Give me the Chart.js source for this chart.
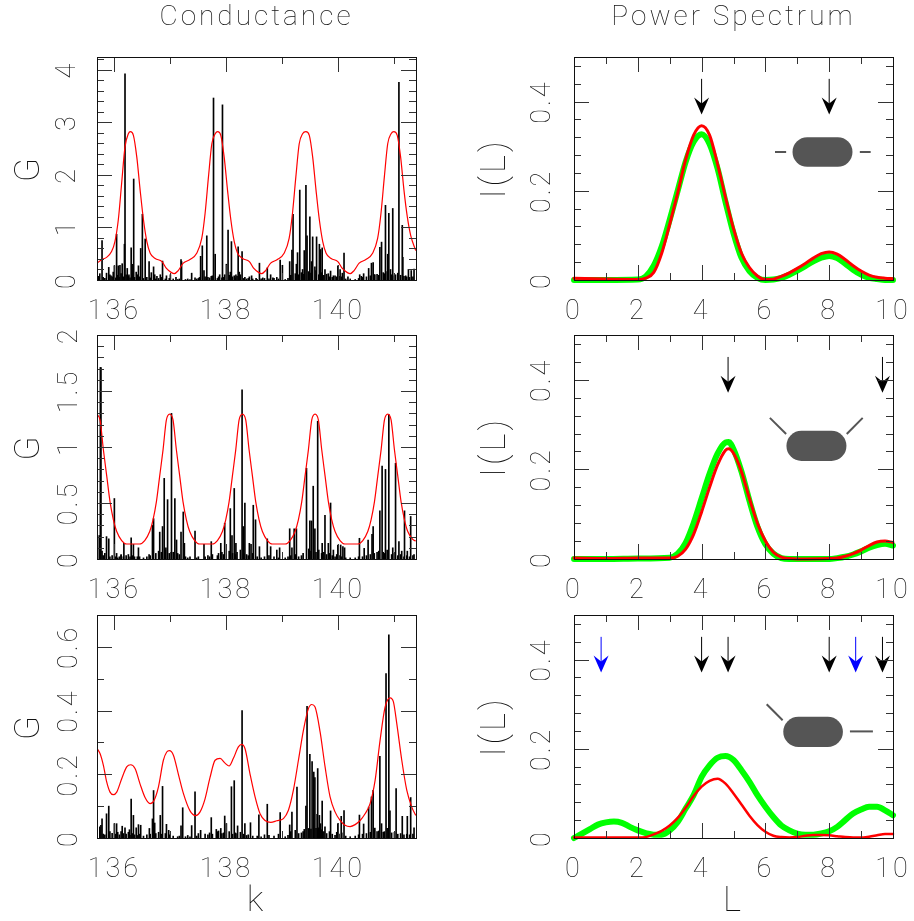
<!DOCTYPE html>
<html lang="en">

<head>
    <meta charset="UTF-8">
    <title>Conductance and Power Spectrum</title>
    <style>
        body {
            margin: 0;
            background: #fff;
            overflow: hidden;
        }

        canvas {
            position: absolute;
        }
    </style>
</head>

<body>
    <canvas id="g1" style="left:0;top:0"></canvas>
    <canvas id="p1" style="left:465px;top:0"></canvas>
    <canvas id="g2" style="left:0;top:320px"></canvas>
    <canvas id="p2" style="left:465px;top:320px"></canvas>
    <canvas id="g3" style="left:0;top:600px"></canvas>
    <canvas id="p3" style="left:465px;top:600px"></canvas>

    <script src="https://cdn.jsdelivr.net/npm/chart.js"></script>

    <script>
        // axis ticks
        const kMajor = [136, 138, 140];
        const kMinor = [137, 139, 141];
        const lMajor = [0, 2, 4, 6, 8, 10];
        const lMinor = [1, 3, 5, 7, 9];
        const g1Major = [0, 1, 2, 3, 4];
        const g1Minor = [0.2, 0.4, 0.6, 0.8, 1.2, 1.4, 1.6, 1.8, 2.2, 2.4, 2.6, 2.8, 3.2, 3.4, 3.6, 3.8, 4.2];
        const g2Major = [0, 0.5, 1, 1.5, 2];
        const g2Minor = [0.1, 0.2, 0.3, 0.4, 0.6, 0.7, 0.8, 0.9, 1.1, 1.2, 1.3, 1.4, 1.6, 1.7, 1.8, 1.9];
        const g3Major = [0, 0.2, 0.4, 0.6];
        const g3Minor = [0.1, 0.3, 0.5];
        const iMajor = [0, 0.2, 0.4];
        const iMinor = [0.04, 0.08, 0.12, 0.16, 0.24, 0.28, 0.32, 0.36, 0.44, 0.48];

        // conductance sticks, top panel
        const stickK1 = [135.72, 135.74, 135.78, 135.86, 135.90, 135.94, 135.98, 136.0, 136.04, 136.07,
            136.10, 136.14, 136.18, 136.19, 136.23, 136.26, 136.30, 136.33, 136.345, 136.39,
            136.43, 136.47, 136.50, 136.55, 136.62, 136.66, 136.70, 136.72, 136.76, 136.82,
            136.86, 136.93, 137.0, 137.10, 137.19, 137.20, 137.38, 137.44, 137.52, 137.54,
            137.57, 137.60, 137.65, 137.73, 137.77, 137.80, 137.88, 137.93, 137.97, 138.0,
            138.03, 138.07, 138.09, 138.14, 138.17, 138.21, 138.23, 138.28, 138.33, 138.41,
            138.45, 138.53, 138.59, 138.65, 138.73, 138.79, 138.83, 138.90, 138.96, 139.0,
            139.13, 139.17, 139.19, 139.25, 139.27, 139.31, 139.36, 139.39, 139.42, 139.44,
            139.49, 139.52, 139.54, 139.58, 139.61, 139.66, 139.68, 139.71, 139.76, 139.82,
            139.86, 139.91, 139.99, 140.03, 140.07, 140.10, 140.17, 140.38, 140.41, 140.45,
            140.54, 140.59, 140.62, 140.65, 140.74, 140.77, 140.84, 140.88, 140.90, 140.93,
            140.97, 141.02, 141.08, 141.14, 141.15, 141.2, 141.25, 141.3, 141.35];
        const stickG1 = [0.07, 0.12, 0.75, 0.13, 0.24, 0.08, 0.15, 0.27, 0.87, 0.27,
            0.28, 0.31, 0.68, 3.92, 0.22, 0.1, 0.61, 0.3, 1.92, 0.15,
            0.27, 0.6, 1.25, 0.78, 0.35, 0.14, 0.25, 0.1, 0.07, 0.1,
            0.36, 0.08, 0.1, 0.05, 0.39, 0.35, 0.13, 0.04, 0.05, 0.45,
            0.65, 0.18, 0.84, 0.07, 3.46, 0.49, 0.1, 3.33, 0.1, 0.3,
            0.95, 0.15, 0.73, 0.08, 0.1, 0.63, 0.15, 0.54, 0.05, 0.06,
            0.08, 0.03, 0.32, 0.04, 0.23, 0.1, 0.04, 0.05, 0.38, 0.28,
            0.35, 0.57, 1.25, 0.3, 0.52, 1.71, 0.2, 0.56, 1.80, 0.84,
            1.20, 0.35, 0.82, 0.25, 0.82, 0.68, 0.58, 0.61, 0.2, 0.12,
            0.17, 0.08, 0.27, 0.2, 0.13, 0.51, 0.06, 0.1, 0.07, 0.12,
            0.22, 0.32, 0.33, 0.1, 0.62, 0.72, 1.42, 0.49, 1.27, 0.2,
            1.36, 0.1, 3.76, 1.04, 0.43, 0.08, 0.2, 0.18, 0.21];

        // conductance sticks, middle panel
        const stickK2 = [135.73, 135.75, 135.76, 135.78, 135.86, 135.90, 136.0, 136.04, 136.12, 136.17,
            136.30, 136.34, 136.43, 136.62, 136.68, 136.70, 136.81, 136.86, 136.89, 136.92,
            136.95, 137.02, 137.08, 137.11, 137.19, 137.23, 137.25, 137.44, 137.6, 137.73,
            137.9, 137.97, 138.07, 138.10, 138.14, 138.17, 138.28, 138.30, 138.33, 138.41,
            138.44, 138.48, 138.52, 138.59, 138.73, 138.79, 138.90, 138.95, 139.13, 139.17,
            139.21, 139.25, 139.43, 139.49, 139.52, 139.55, 139.58, 139.63, 139.71, 139.76,
            139.82, 139.86, 139.91, 139.99, 140.04, 140.08, 140.11, 140.375, 140.46, 140.53,
            140.6, 140.62, 140.74, 140.78, 140.84, 140.90, 140.97, 141.02, 141.08, 141.13,
            141.18, 141.23, 141.29, 141.35];
        const stickG2 = [0.21, 1.71, 1.71, 0.07, 0.2, 0.18, 0.54, 0.05, 0.04, 0.14,
            0.19, 0.13, 0.1, 0.04, 0.3, 0.36, 0.24, 0.29, 0.72, 0.1,
            0.53, 1.3, 0.54, 0.17, 0.24, 0.42, 0.14, 0.25, 0.13, 0.155,
            0.14, 0.32, 0.45, 0.21, 0.63, 0.14, 1.51, 0.29, 0.5, 0.14,
            0.13, 0.48, 0.35, 0.11, 0.18, 0.11, 0.08, 0.1, 0.27, 0.1,
            0.27, 0.27, 0.81, 0.34, 0.34, 0.65, 0.27, 1.23, 0.14, 0.39,
            0.14, 0.5, 0.08, 0.125, 0.125, 0.11, 0.1, 0.185, 0.095, 0.17,
            0.22, 0.29, 0.43, 0.83, 0.8, 1.29, 0.1, 0.855, 0.155, 0.07,
            0.43, 0.07, 0.38, 0.04];

        // conductance sticks, bottom panel
        const stickK3 = [135.74, 135.76, 135.78, 135.86, 135.90, 136.0, 136.04, 136.14, 136.19, 136.27,
            136.30, 136.34, 136.39, 136.43, 136.47, 136.625, 136.68, 136.70, 136.72, 136.82,
            136.86, 136.93, 136.97, 137.19, 137.22, 137.38, 137.44, 137.54, 137.73, 137.82,
            137.9, 137.97, 138.0, 138.09, 138.14, 138.2, 138.28, 138.33, 138.43, 138.58,
            138.73, 138.96, 139.13, 139.17, 139.26, 139.39, 139.42, 139.44, 139.49, 139.53,
            139.56, 139.58, 139.62, 139.63, 139.66, 139.68, 139.71, 139.76, 139.86, 139.99,
            140.05, 140.10, 140.375, 140.45, 140.54, 140.59, 140.62, 140.65, 140.74, 140.77,
            140.85, 140.90, 140.92, 141.03, 141.14, 141.23, 141.29, 141.35];
        const stickG3 = [0.035, 0.04, 0.06, 0.076, 0.1, 0.045, 0.045, 0.037, 0.032, 0.026,
            0.122, 0.071, 0.032, 0.042, 0.04, 0.03, 0.06, 0.149, 0.047, 0.071,
            0.162, 0.043, 0.024, 0.038, 0.095, 0.039, 0.145, 0.024, 0.064, 0.027,
            0.03, 0.069, 0.045, 0.161, 0.18, 0.038, 0.4, 0.045, 0.048, 0.073,
            0.106, 0.08, 0.041, 0.081, 0.16, 0.027, 0.1, 0.413, 0.263, 0.24,
            0.207, 0.19, 0.074, 0.218, 0.071, 0.045, 0.116, 0.035, 0.085, 0.045,
            0.068, 0.086, 0.072, 0.044, 0.097, 0.129, 0.15, 0.031, 0.256, 0.045,
            0.516, 0.638, 0.085, 0.155, 0.068, 0.068, 0.127, 0.032];

        // the short sticks along the base of each conductance panel
        const tinyK = [135.8, 135.83, 135.92, 135.96, 136.02, 136.06, 136.09, 136.12, 136.16, 136.21,
            136.25, 136.28, 136.32, 136.36, 136.41, 136.45, 136.52, 136.58, 136.64, 136.74,
            136.79, 136.84, 136.91, 136.98, 137.05, 137.13, 137.16, 137.27, 137.31, 137.35,
            137.47, 137.5, 137.62, 137.67, 137.7, 137.75, 137.84, 137.86, 137.92, 137.95,
            138.05, 138.11, 138.16, 138.19, 138.25, 138.31, 138.36, 138.39, 138.47, 138.55,
            138.62, 138.68, 138.76, 138.85, 138.93, 139.05, 139.1, 139.15, 139.23, 139.29,
            139.34, 139.37, 139.47, 139.51, 139.6, 139.65, 139.7, 139.74, 139.79, 139.84,
            139.89, 139.94, 139.97, 140.01, 140.06, 140.13, 140.21, 140.3, 140.36, 140.43,
            140.5, 140.57, 140.64, 140.69, 140.72, 140.8, 140.82, 140.87, 140.95, 141.0,
            141.06, 141.11, 141.17, 141.22, 141.27, 141.33];
        const tinyG1 = [0.05, 0.03, 0.1, 0.06, 0.04, 0.09, 0.05, 0.12, 0.06, 0.1,
            0.07, 0.04, 0.12, 0.05, 0.1, 0.06, 0.03, 0.05, 0.04, 0.02,
            0.03, 0.05, 0.02, 0.03, 0.02, 0.01, 0.02, 0.01, 0.02, 0.01,
            0.02, 0.03, 0.06, 0.05, 0.04, 0.08, 0.03, 0.06, 0.04, 0.05,
            0.09, 0.06, 0.04, 0.07, 0.1, 0.03, 0.02, 0.03, 0.02, 0.01,
            0.02, 0.03, 0.02, 0.03, 0.02, 0.01, 0.03, 0.09, 0.12, 0.1, 0.14, 0.11, 0.16, 0.13,
            0.18, 0.1, 0.14, 0.09, 0.11, 0.06, 0.05, 0.08, 0.06, 0.07, 0.06, 0.02, 0.02, 0.01,
            0.03, 0.05, 0.06, 0.08, 0.1, 0.11, 0.09, 0.14, 0.12, 0.16, 0.1, 0.08,
            0.13, 0.09, 0.07, 0.06, 0.05, 0.06];
        const tinyG2 = [0.03, 0.05, 0.02, 0.03, 0.02, 0.01, 0.02, 0.03, 0.02, 0.03,
            0.04, 0.02, 0.03, 0.02, 0.02, 0.02, 0.01, 0.02, 0.03, 0.05,
            0.07, 0.06, 0.08, 0.05, 0.06, 0.05, 0.04, 0.02, 0.01, 0.02,
            0.01, 0.02, 0.02, 0.03, 0.02, 0.04, 0.03, 0.05, 0.06, 0.04,
            0.07, 0.05, 0.04, 0.06, 0.08, 0.05, 0.04, 0.03, 0.05, 0.02,
            0.01, 0.02, 0.03, 0.02, 0.01, 0.01, 0.02, 0.03, 0.04, 0.02,
            0.03, 0.05, 0.09, 0.07, 0.06, 0.08, 0.05, 0.06, 0.04, 0.05,
            0.03, 0.02, 0.04, 0.03, 0.02, 0.01, 0.01, 0.01, 0.02, 0.02,
            0.03, 0.04, 0.05, 0.06, 0.07, 0.06, 0.05, 0.08, 0.04, 0.05,
            0.03, 0.04, 0.02, 0.03, 0.02, 0.03];
        const tinyG3 = [0.012, 0.01, 0.02, 0.015, 0.012, 0.018, 0.01, 0.02, 0.014, 0.012,
            0.018, 0.008, 0.014, 0.01, 0.008, 0.012, 0.006, 0.01, 0.012, 0.014,
            0.018, 0.012, 0.014, 0.01, 0.006, 0.004, 0.006, 0.004, 0.008, 0.004,
            0.006, 0.014, 0.012, 0.01, 0.016, 0.012, 0.02, 0.022, 0.014, 0.016,
            0.02, 0.012, 0.016, 0.014, 0.018, 0.012, 0.008, 0.01, 0.006, 0.006,
            0.004, 0.01, 0.008, 0.006, 0.012, 0.004, 0.008, 0.02, 0.024, 0.014,
            0.016, 0.02, 0.03, 0.028, 0.03, 0.032, 0.026, 0.02, 0.014, 0.02,
            0.012, 0.008, 0.018, 0.012, 0.016, 0.006, 0.004, 0.006, 0.01, 0.012,
            0.014, 0.018, 0.024, 0.02, 0.022, 0.018, 0.02, 0.03, 0.016, 0.018,
            0.012, 0.014, 0.01, 0.012, 0.01, 0.012];

        // smoothed conductance
        const smoothK1 = [135.685, 135.77, 135.86, 135.95, 136.01, 136.07, 136.13, 136.19, 136.25, 136.286,
            136.34, 136.40, 136.46, 136.52, 136.58, 136.64, 136.73, 136.85, 136.93, 137.02,
            137.07, 137.14, 137.23, 137.35, 137.47, 137.56, 137.62, 137.68, 137.74, 137.80,
            137.845, 137.90, 137.96, 138.02, 138.08, 138.14, 138.20, 138.29, 138.41, 138.49,
            138.58, 138.63, 138.70, 138.79, 138.91, 139.03, 139.12, 139.18, 139.24, 139.30,
            139.36, 139.42, 139.48, 139.54, 139.60, 139.66, 139.72, 139.78, 139.87, 139.99,
            140.07, 140.16, 140.21, 140.28, 140.37, 140.49, 140.61, 140.70, 140.76, 140.82,
            140.88, 140.94, 140.99, 141.05, 141.11, 141.17, 141.23, 141.29, 141.38];
        const smoothG1 = [0.316, 0.386, 0.43, 0.54, 0.73, 1.14, 1.84, 2.53, 2.78, 2.82,
            2.75, 2.34, 1.71, 1.14, 0.73, 0.51, 0.41, 0.35, 0.22, 0.14,
            0.12, 0.18, 0.32, 0.39, 0.51, 0.79, 1.27, 1.96, 2.59, 2.78,
            2.82, 2.75, 2.34, 1.71, 1.14, 0.73, 0.51, 0.41, 0.35, 0.22,
            0.14, 0.12, 0.18, 0.32, 0.39, 0.51, 0.79, 1.27, 1.96, 2.59,
            2.78, 2.82, 2.75, 2.34, 1.71, 1.14, 0.73, 0.51, 0.41, 0.35,
            0.22, 0.14, 0.12, 0.18, 0.32, 0.39, 0.51, 0.79, 1.27, 1.96,
            2.59, 2.78, 2.82, 2.75, 2.34, 1.71, 1.2, 0.85, 0.56];

        const smoothK2 = [135.685, 135.745, 135.804, 135.864, 135.923, 135.983, 136.042, 136.131, 136.22, 136.45,
            136.542, 136.631, 136.69, 136.75, 136.809, 136.869, 136.928, 136.988, 137.048, 137.107,
            137.167, 137.226, 137.286, 137.345, 137.434, 137.52, 137.75, 137.84, 137.929, 137.988,
            138.048, 138.107, 138.167, 138.226, 138.286, 138.346, 138.405, 138.465, 138.524, 138.584,
            138.643, 138.732, 138.82, 139.05, 139.137, 139.226, 139.285, 139.345, 139.404, 139.464,
            139.523, 139.583, 139.643, 139.702, 139.762, 139.821, 139.881, 139.94, 140.029, 140.115,
            140.345, 140.435, 140.524, 140.583, 140.643, 140.702, 140.762, 140.821, 140.881, 140.941,
            141.0, 141.06, 141.119, 141.179, 141.238, 141.327, 141.38];
        const smoothG2 = [1.294, 1.24, 0.975, 0.74, 0.51, 0.35, 0.245, 0.165, 0.134, 0.134,
            0.165, 0.245, 0.35, 0.51, 0.74, 0.975, 1.24, 1.294, 1.24, 0.975,
            0.74, 0.51, 0.35, 0.245, 0.165, 0.134, 0.134, 0.165, 0.245, 0.35,
            0.51, 0.74, 0.975, 1.24, 1.294, 1.24, 0.975, 0.74, 0.51, 0.35,
            0.245, 0.165, 0.134, 0.134, 0.165, 0.245, 0.35, 0.51, 0.74, 0.975,
            1.24, 1.294, 1.24, 0.975, 0.74, 0.51, 0.35, 0.245, 0.165, 0.134,
            0.134, 0.165, 0.245, 0.35, 0.51, 0.74, 0.975, 1.24, 1.294, 1.24,
            0.975, 0.74, 0.51, 0.35, 0.245, 0.175, 0.16];

        const smoothK3 = [135.685, 135.744, 135.804, 135.863, 135.923, 135.982, 136.042, 136.131, 136.22, 136.292,
            136.369, 136.458, 136.548, 136.637, 136.708, 136.786, 136.875, 136.935, 136.982, 137.054,
            137.143, 137.232, 137.351, 137.452, 137.53, 137.619, 137.708, 137.798, 137.887, 137.976,
            138.048, 138.125, 138.214, 138.274, 138.333, 138.423, 138.512, 138.601, 138.69, 138.792,
            138.899, 139.018, 139.107, 139.196, 139.286, 139.375, 139.464, 139.524, 139.583, 139.673,
            139.762, 139.851, 139.94, 140.03, 140.119, 140.208, 140.298, 140.387, 140.476, 140.565,
            140.655, 140.744, 140.833, 140.923, 140.982, 141.042, 141.131, 141.22, 141.31, 141.38];
        const smoothG3 = [0.2825, 0.265, 0.228, 0.176, 0.144, 0.136, 0.144, 0.186, 0.223, 0.23,
            0.218, 0.17, 0.127, 0.108, 0.118, 0.16, 0.244, 0.27, 0.274, 0.26,
            0.2, 0.14, 0.085, 0.07, 0.082, 0.123, 0.19, 0.244, 0.25, 0.235,
            0.226, 0.25, 0.286, 0.294, 0.28, 0.2, 0.129, 0.076, 0.055, 0.049,
            0.054, 0.061, 0.087, 0.15, 0.244, 0.338, 0.406, 0.419, 0.411, 0.333,
            0.223, 0.129, 0.082, 0.055, 0.04, 0.036, 0.042, 0.055, 0.076, 0.108,
            0.181, 0.307, 0.411, 0.44, 0.427, 0.359, 0.244, 0.15, 0.097, 0.071];

        // power spectra
        const specL1 = [0, 1, 2, 2.25, 2.5, 2.75, 3, 3.25, 3.5, 3.75, 4, 4.25, 4.5, 4.75, 5, 5.25, 5.5, 5.75, 6, 6.25,
            6.5, 6.75, 7, 7.25, 7.5, 7.75, 8, 8.25, 8.5, 8.75, 9, 9.25, 9.5, 9.75, 10];
        const green1 = [0, 0, 0.001, 0.008, 0.032, 0.075, 0.135, 0.2, 0.265, 0.31, 0.327, 0.305, 0.25, 0.175, 0.105, 0.05, 0.02, 0.005, 0, 0.001,
            0.005, 0.012, 0.021, 0.031, 0.042, 0.05, 0.054, 0.049, 0.037, 0.023, 0.012, 0.005, 0.002, 0, 0];
        const red1 = [0.004, 0.002, 0.001, 0.004, 0.017, 0.06, 0.125, 0.195, 0.27, 0.325, 0.346, 0.325, 0.26, 0.185, 0.115, 0.06, 0.028, 0.009, 0.001, 0.002,
            0.008, 0.016, 0.026, 0.037, 0.049, 0.059, 0.063, 0.058, 0.046, 0.032, 0.02, 0.011, 0.006, 0.004, 0.003];

        const specL2 = [0, 1, 2, 3, 3.25, 3.5, 3.75, 4, 4.25, 4.5, 4.75, 4.85, 5, 5.25, 5.5, 5.75, 6, 6.25, 6.5, 6.75,
            7, 8, 8.25, 8.5, 8.75, 9, 9.25, 9.5, 9.75, 10];
        const green2 = [0, 0, 0.001, 0.003, 0.012, 0.036, 0.08, 0.135, 0.19, 0.235, 0.26, 0.261, 0.245, 0.195, 0.13, 0.072, 0.033, 0.012, 0.002, 0,
            0, 0, 0.002, 0.005, 0.01, 0.017, 0.025, 0.031, 0.034, 0.03];
        const red2 = [0.002, 0.001, 0.002, 0.002, 0.006, 0.022, 0.055, 0.105, 0.16, 0.21, 0.243, 0.246, 0.236, 0.195, 0.135, 0.08, 0.04, 0.015, 0.004, 0.001,
            0, 0.001, 0.002, 0.006, 0.012, 0.02, 0.03, 0.038, 0.04, 0.037];

        const specL3 = [0, 0.25, 0.5, 0.75, 1, 1.25, 1.5, 1.75, 2, 2.25, 2.5, 2.75, 3, 3.25, 3.5, 3.75, 4, 4.25, 4.5, 4.75,
            5, 5.25, 5.5, 5.75, 6, 6.25, 6.5, 6.75, 7, 7.25, 7.5, 7.75, 8, 8.25, 8.5, 8.75, 9, 9.25, 9.5, 9.75, 10];
        const green3 = [0, 0.01, 0.02, 0.03, 0.035, 0.037, 0.034, 0.025, 0.017, 0.011, 0.0075, 0.0075, 0.017, 0.036, 0.066, 0.096, 0.137, 0.163, 0.18, 0.184,
            0.175, 0.152, 0.126, 0.096, 0.07, 0.047, 0.028, 0.017, 0.01, 0.0075, 0.0075, 0.01, 0.015, 0.025, 0.04, 0.055, 0.064, 0.07, 0.07, 0.062, 0.051];
        const red3 = [0.001, 0.001, 0.001, 0.001, 0.001, 0.001, 0.001, 0.001, 0.001, 0.002, 0.008, 0.016, 0.028, 0.045, 0.068, 0.094, 0.115, 0.128, 0.133, 0.122,
            0.1, 0.075, 0.05, 0.029, 0.014, 0.005, 0.002, 0.001, 0.002, 0.005, 0.007, 0.007, 0.006, 0.004, 0.002, 0.001, 0.001, 0.003, 0.006, 0.009, 0.009];

        // arrow positions in L
        const arrows1 = [4, 8];
        const arrows2 = [4.83, 9.67];
        const arrows3 = [4, 4.83, 8, 9.67];
        const blueArrows3 = [0.85, 8.83];

        const TEXT = '#111';
        const TICK_FONT = { family: 'Roboto', size: 27, weight: '100' };
        const LABEL_FONT = { family: 'Roboto', size: 35, weight: '100', lineHeight: 1 };

        // frame and inward ticks on all four sides
        function frameTicks(xMajor, xMinor, yMajor, yMinor) {
            return {
                id: 'frameTicks',
                beforeDraw(chart) {
                    chart.ctx.letterSpacing = '3px';
                },
                afterDraw(chart) {
                    const ctx = chart.ctx;
                    const { left, right, top, bottom } = chart.chartArea;
                    const x = chart.scales.x;
                    const y = chart.scales.y;
                    ctx.save();
                    ctx.strokeStyle = '#333';
                    ctx.lineWidth = 1;
                    ctx.beginPath();
                    function xTick(v, len) {
                        let px = Math.round(x.getPixelForValue(v)) + 0.5;
                        ctx.moveTo(px, top); ctx.lineTo(px, top + len);
                        ctx.moveTo(px, bottom); ctx.lineTo(px, bottom - len);
                    }
                    function yTick(v, len) {
                        let py = Math.round(y.getPixelForValue(v)) + 0.5;
                        ctx.moveTo(left, py); ctx.lineTo(left + len, py);
                        ctx.moveTo(right, py); ctx.lineTo(right - len, py);
                    }
                    xMajor.forEach(v => xTick(v, 15));
                    xMinor.forEach(v => xTick(v, 7));
                    yMajor.forEach(v => yTick(v, 15));
                    yMinor.forEach(v => yTick(v, 7));
                    ctx.stroke();
                    ctx.strokeStyle = '#111';
                    ctx.strokeRect(left + 0.5, top + 0.5, right - left, bottom - top);
                    ctx.restore();
                }
            };
        }

        // arrows and the little dot sketch, in data coordinates
        function sketch(black, blue, pill, leads) {
            function arrow(ctx, x, y, L, color) {
                const px = x.getPixelForValue(L);
                const y0 = y.getPixelForValue(0.451);
                const y1 = y.getPixelForValue(0.371);
                ctx.strokeStyle = color;
                ctx.fillStyle = color;
                ctx.lineWidth = 1;
                ctx.beginPath();
                ctx.moveTo(px, y0);
                ctx.lineTo(px, y1 - 8);
                ctx.stroke();
                ctx.beginPath();
                ctx.moveTo(px, y1);
                ctx.lineTo(px - 7.5, y1 - 17);
                ctx.lineTo(px, y1 - 11);
                ctx.lineTo(px + 7.5, y1 - 17);
                ctx.closePath();
                ctx.fill();
            }
            return {
                id: 'sketch',
                afterDatasetsDraw(chart) {
                    const ctx = chart.ctx;
                    const x = chart.scales.x;
                    const y = chart.scales.y;
                    ctx.save();
                    black.forEach(L => arrow(ctx, x, y, L, '#000'));
                    blue.forEach(L => arrow(ctx, x, y, L, '#00f'));
                    ctx.fillStyle = '#555';
                    ctx.beginPath();
                    const l = x.getPixelForValue(pill[0]);
                    const r = x.getPixelForValue(pill[1]);
                    const t = y.getPixelForValue(pill[2]);
                    const b = y.getPixelForValue(pill[3]);
                    ctx.roundRect(l, t, r - l, b - t, (b - t) / 2);
                    ctx.fill();
                    ctx.strokeStyle = '#555';
                    ctx.lineWidth = 2;
                    leads.forEach(s => {
                        ctx.beginPath();
                        ctx.moveTo(x.getPixelForValue(s[0]), y.getPixelForValue(s[1]));
                        ctx.lineTo(x.getPixelForValue(s[2]), y.getPixelForValue(s[3]));
                        ctx.stroke();
                    });
                    ctx.restore();
                }
            };
        }

        function pairs(xs, ys) {
            return xs.map((v, i) => ({ x: v, y: ys[i] }));
        }

        function panelOptions(p) {
            return {
                responsive: false,
                animation: false,
                events: [],
                layout: { padding: { top: p.padTop, right: p.padRight, bottom: 0, left: 0 } },
                plugins: {
                    legend: { display: false },
                    tooltip: { enabled: false },
                    title: {
                        display: !!p.title,
                        text: p.title,
                        fullSize: false,
                        color: TEXT,
                        font: { family: 'Roboto', size: 28, weight: '100', lineHeight: 1.2 },
                        padding: { top: 1, bottom: 22.4 }
                    }
                },
                scales: {
                    x: {
                        type: 'linear',
                        min: p.xMin,
                        max: p.xMax,
                        offset: false,
                        grid: { display: false },
                        border: { display: false },
                        // keep the plot box fixed, labels may hang over its edges
                        afterFit(s) {
                            s.height = p.xHeight;
                            s.paddingLeft = 0;
                            s.paddingRight = 0;
                        },
                        afterBuildTicks(s) { s.ticks = p.xMajor.map(v => ({ value: v })); },
                        ticks: {
                            autoSkip: false,
                            maxRotation: 0,
                            padding: 8,
                            color: TEXT,
                            font: TICK_FONT,
                            callback: v => String(v)
                        },
                        title: {
                            display: !!p.xTitle,
                            text: p.xTitle,
                            color: TEXT,
                            font: LABEL_FONT,
                            padding: { top: 0, bottom: 1 }
                        }
                    },
                    y: {
                        min: 0,
                        max: p.yMax,
                        grid: { display: false },
                        border: { display: false },
                        afterFit(s) {
                            s.width = p.yWidth;
                            s.paddingTop = 0;
                            s.paddingBottom = 0;
                        },
                        afterBuildTicks(s) { s.ticks = p.yMajor.map(v => ({ value: v })); },
                        ticks: {
                            autoSkip: false,
                            minRotation: 90,
                            maxRotation: 90,
                            crossAlign: 'center',
                            padding: p.yPad,
                            color: TEXT,
                            font: TICK_FONT,
                            callback: v => String(v)
                        },
                        title: {
                            display: true,
                            text: p.yTitle,
                            color: TEXT,
                            font: LABEL_FONT,
                            padding: { top: p.yTitlePad, bottom: 0 }
                        }
                    }
                }
            };
        }

        function conductancePanel(id, h, p, k, g, tiny, sk, sg) {
            const canvas = document.getElementById(id);
            canvas.width = 440;
            canvas.height = h;
            return new Chart(canvas, {
                type: 'bar',
                data: {
                    datasets: [
                        {
                            type: 'line', data: pairs(sk, sg), order: 1, borderColor: '#f00', borderWidth: 1.2,
                            pointRadius: 0, cubicInterpolationMode: 'monotone'
                        },
                        { data: pairs(k, g), order: 2, backgroundColor: '#000', barThickness: 1, grouped: false },
                        { data: pairs(tinyK, tiny), order: 3, backgroundColor: '#000', barThickness: 1, grouped: false }
                    ]
                },
                options: panelOptions(Object.assign({
                    xMin: 135.69, xMax: 141.385, xMajor: kMajor, yTitle: 'G', yWidth: 97, yTitlePad: 13, padRight: 24
                }, p)),
                plugins: [frameTicks(kMajor, kMinor, p.yMajor, p.yMinor)]
            });
        }

        function spectrumPanel(id, h, p, L, green, red, redWidth, black, blue, pill, leads) {
            const canvas = document.getElementById(id);
            canvas.width = 449;
            canvas.height = h;
            return new Chart(canvas, {
                type: 'line',
                data: {
                    datasets: [
                        {
                            data: pairs(L, red), order: 1, borderColor: '#f00', borderWidth: redWidth,
                            pointRadius: 0, cubicInterpolationMode: 'monotone', clip: false, borderCapStyle: 'round'
                        },
                        {
                            data: pairs(L, green), order: 2, borderColor: '#0f0', borderWidth: 6,
                            pointRadius: 0, cubicInterpolationMode: 'monotone', clip: false, borderCapStyle: 'round'
                        }
                    ]
                },
                options: panelOptions(Object.assign({
                    xMin: 0, xMax: 10, xMajor: lMajor, yMax: 0.5, yMajor: iMajor, yTitle: 'I(L)', yWidth: 109,
                    yTitlePad: 14, padRight: 21, yPad: 5
                }, p)),
                plugins: [frameTicks(lMajor, lMinor, iMajor, iMinor), sketch(black, blue, pill, leads)]
            });
        }

        conductancePanel('g1', 320, { title: 'Conductance', padTop: 0, xHeight: 40, yMax: 4.24, yMajor: g1Major, yMinor: g1Minor, yPad: 13 },
            stickK1, stickG1, tinyG1, smoothK1, smoothG1);
        conductancePanel('g2', 280, { padTop: 15, xHeight: 41, yMax: 2, yMajor: g2Major, yMinor: g2Minor, yPad: 1.5 },
            stickK2, stickG2, tinyG2, smoothK2, smoothG2);
        conductancePanel('g3', 321, { padTop: 15, xHeight: 83, xTitle: 'k', yMax: 0.7, yMajor: g3Major, yMinor: g3Minor, yPad: 1.5 },
            stickK3, stickG3, tinyG3, smoothK3, smoothG3);

        spectrumPanel('p1', 320, { title: 'Power Spectrum', padTop: 0, xHeight: 40 }, specL1, green1, red1, 3, arrows1, [],
            [6.85, 8.73, 0.32, 0.254], [[6.3, 0.287, 6.65, 0.287], [8.96, 0.287, 9.3, 0.287]]);
        spectrumPanel('p2', 280, { padTop: 15, xHeight: 41 }, specL2, green2, red2, 3, arrows2, [],
            [6.66, 8.54, 0.286, 0.219], [[6.14, 0.315, 6.65, 0.279], [9.05, 0.315, 8.55, 0.279]]);
        spectrumPanel('p3', 321, { padTop: 15, xHeight: 83, xTitle: 'L' }, specL3, green3, red3, 2.5, arrows3, blueArrows3,
            [6.56, 8.43, 0.272, 0.204], [[6.04, 0.3, 6.54, 0.264], [8.65, 0.239, 9.37, 0.239]]);
    </script>
</body>

</html>
